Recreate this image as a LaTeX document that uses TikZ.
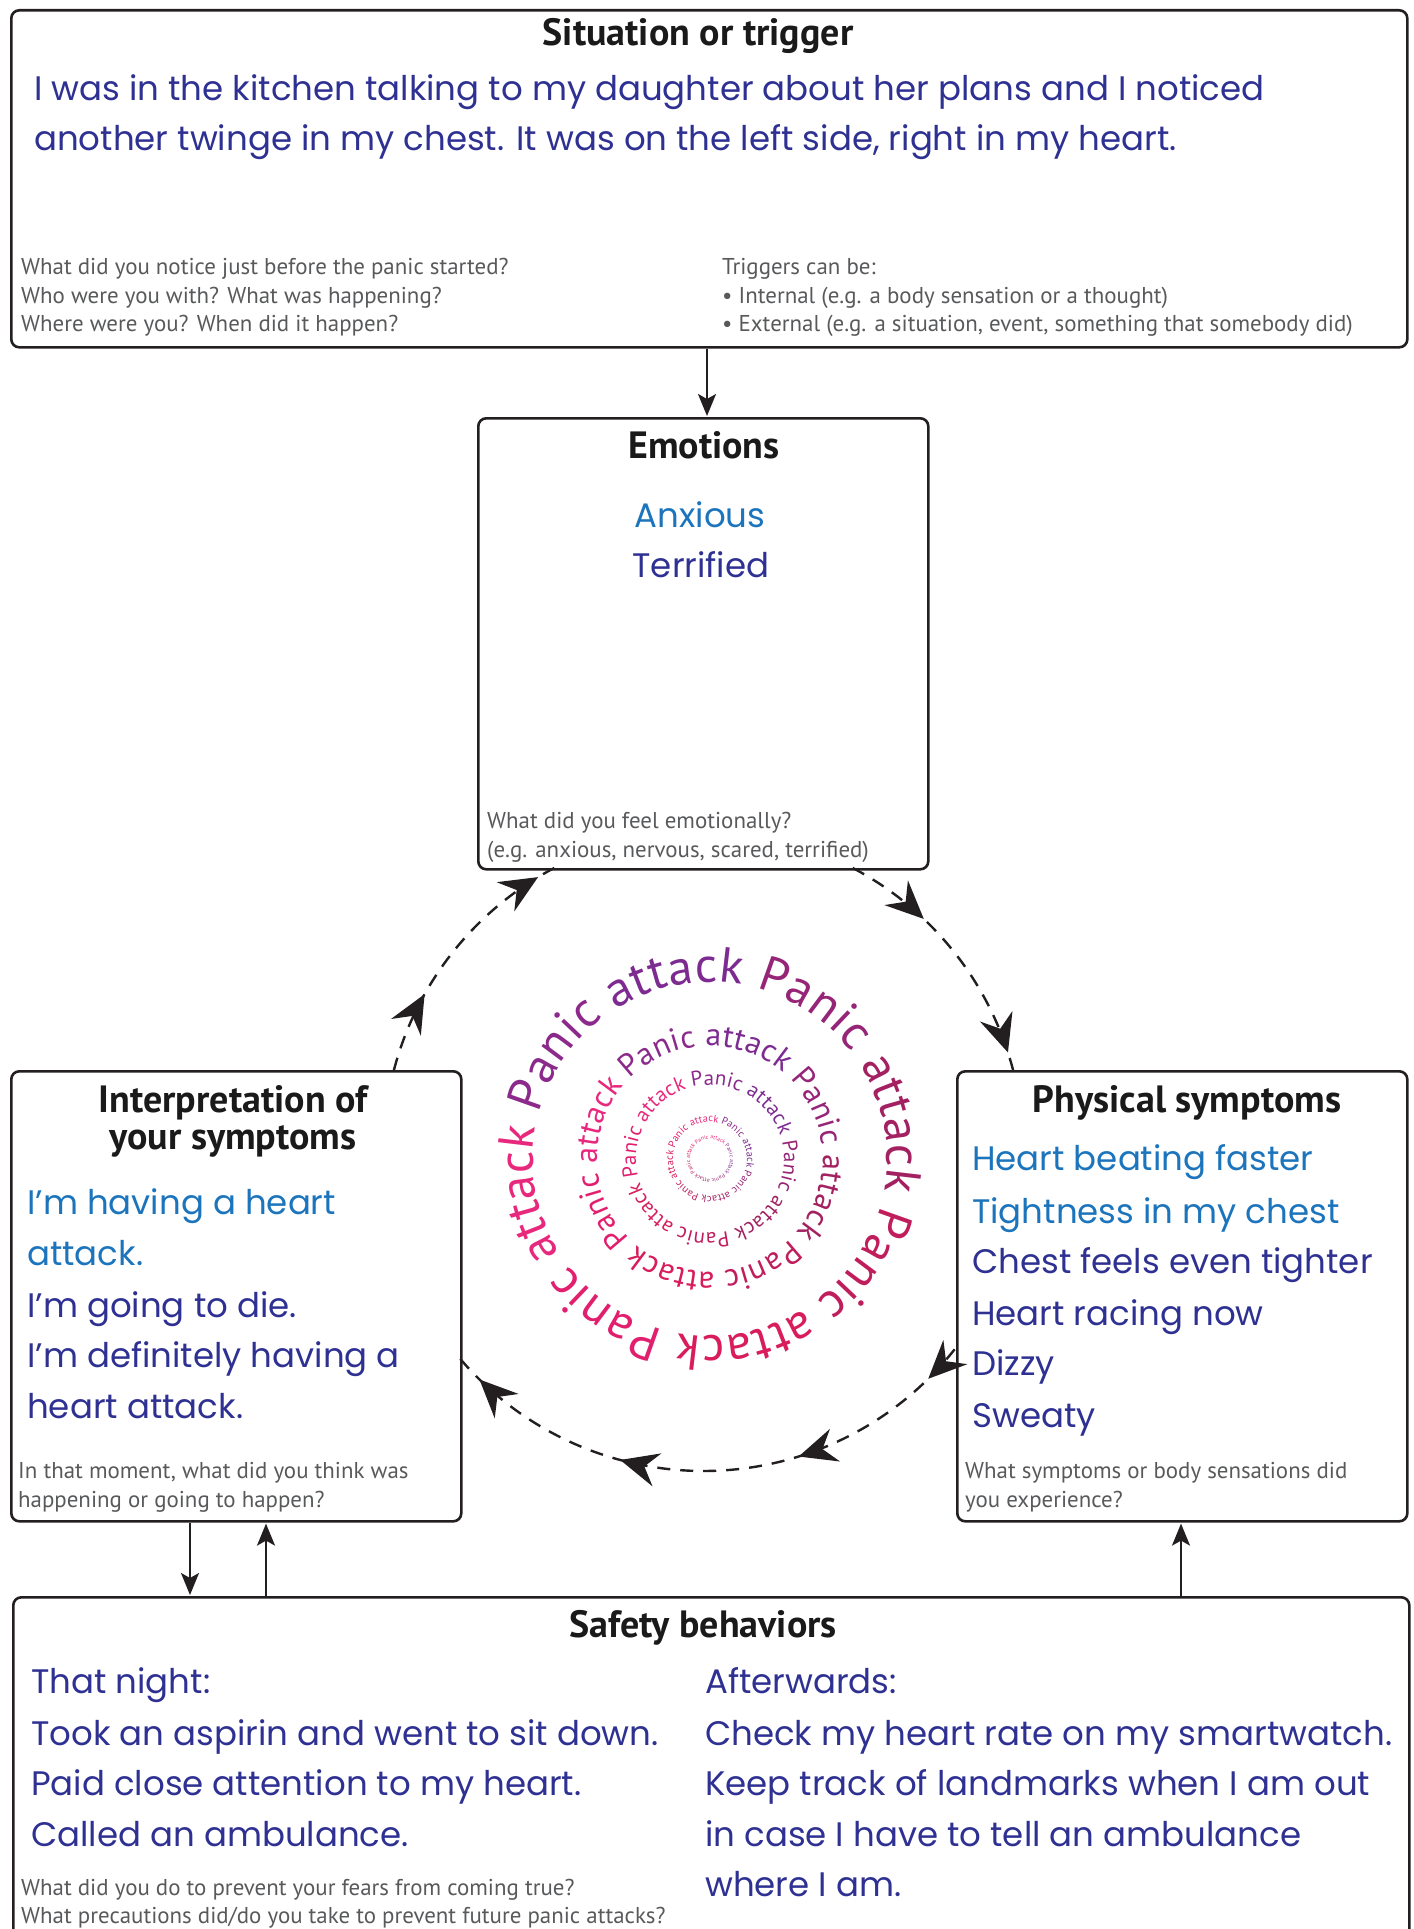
\documentclass[tikz,border=0pt]{standalone}
\usepackage{fontspec}
\usetikzlibrary{arrows.meta,decorations.text,decorations.markings}
\newfontfamily\labelfont{PT Sans}
\newfontfamily\handfont{Poppins}
\newfontfamily\spiralfont{PT Sans}
\definecolor{edge}{HTML}{231F20}
\definecolor{greytxt}{HTML}{58595B}
\definecolor{navy}{HTML}{2E3192}
\definecolor{lblue}{HTML}{1C75BC}
\definecolor{ttlc}{HTML}{1A1A1A}
\definecolor{spA}{HTML}{8C2A8C}
\definecolor{spB}{HTML}{7D2B90}
\definecolor{spC}{HTML}{962477}
\definecolor{spD}{HTML}{A32061}
\definecolor{spE}{HTML}{C01D5C}
\definecolor{spF}{HTML}{D81C5C}
\definecolor{spG}{HTML}{E21F6E}
\definecolor{spH}{HTML}{E8287C}
\newcommand\spf[2]{\spiralfont\fontsize{#1}{#1}\selectfont\color{#2}}
\begin{document}
\begin{tikzpicture}[x=1pt,y=1pt,
  box/.style={draw=edge, line width=2.6pt, rounded corners=8pt, inner sep=0pt, anchor=north west},
  ttl/.style={inner sep=0pt, anchor=base, text=ttlc, font=\labelfont\bfseries\fontsize{38}{42}\selectfont},
  hint/.style={inner sep=0pt, anchor=base west, text=greytxt, font=\labelfont\fontsize{22.9}{27}\selectfont},
  hand/.style={inner sep=0pt, anchor=base west, text=navy, font=\handfont\fontsize{34}{40}\selectfont},
  handc/.style={hand, anchor=base},
  conn/.style={draw=edge, line width=2pt, -{Stealth[length=22pt,width=18pt,inset=5pt]}, shorten >=1pt},
  dasharc/.style={draw=edge, line width=2.4pt, dash pattern=on 13pt off 10pt},
  marks2/.style 2 args={postaction={solid, decorate, decoration={markings,
      mark=at position #1 with {\arrow[edge]{Stealth[length=38pt,width=34pt,inset=13pt]}},
      mark=at position #2 with {\arrow[edge]{Stealth[length=38pt,width=34pt,inset=13pt]}}}}},
  marks4/.style n args={4}{postaction={solid, decorate, decoration={markings,
      mark=at position #1 with {\arrow[edge]{Stealth[length=38pt,width=34pt,inset=13pt]}},
      mark=at position #2 with {\arrow[edge]{Stealth[length=38pt,width=34pt,inset=13pt]}},
      mark=at position #3 with {\arrow[edge]{Stealth[length=38pt,width=34pt,inset=13pt]}},
      mark=at position #4 with {\arrow[edge]{Stealth[length=38pt,width=34pt,inset=13pt]}}}}},
  ring/.style={decorate, decoration={text along path, text align=fit to path,
      text={|\spf{#1}{spA}|Panic |\spf{#1}{spB}|attack |\spf{#1}{spC}|Panic |\spf{#1}{spD}|attack |\spf{#1}{spE}|Panic |\spf{#1}{spF}|attack |\spf{#1}{spG}|Panic |\spf{#1}{spH}|attack{\ }}}}
]
\useasboundingbox (0,0) rectangle (1413,-1929);

% ---------- boxes ----------
\node[box, minimum width=1396pt, minimum height=337pt] (trig) at (10,-9) {};
\node[box, minimum width=450pt, minimum height=451pt] (emo) at (477,-417) {};
\node[box, minimum width=450pt, minimum height=450pt] (interp) at (10,-1070) {};
\node[box, minimum width=450pt, minimum height=450pt] (phys) at (956,-1070) {};
\node[box, minimum width=1396pt, minimum height=400pt] (safe) at (12,-1596) {};

% ---------- situation ----------
\node[ttl] (trigT) at (698,-46) {Situation or trigger};
\node[hand] (trigH1) at (34,-101) {I was in the kitchen talking to my daughter about her plans and I noticed};
\node[hand] (trigH2) at (34,-151) {another twinge in my chest. It was on the left side, right in my heart.};
\node[hint] (trigQ1) at (21,-274) {What did you notice just before the panic started?};
\node[hint] (trigQ2) at (21,-303) {Who were you with? What was happening?};
\node[hint] (trigQ3) at (21,-331) {Where were you? When did it happen?};
\node[hint] (trigR1) at (722,-274) {Triggers can be:};
\node[hint] (trigR2) at (722,-303) {• Internal (e.g. a body sensation or a thought)};
\node[hint] (trigR3) at (722,-331) {• External (e.g. a situation, event, something that somebody did)};

% ---------- emotions ----------
\node[ttl] (emoT) at (704,-458) {Emotions};
\node[handc, text=lblue] (emoH1) at (700,-527) {Anxious};
\node[handc] (emoH2) at (701,-577) {Terrified};
\node[hint] (emoQ1) at (487,-828) {What did you feel emotionally?};
\node[hint] (emoQ2) at (487,-857) {(e.g. anxious, nervous, scared, terrified)};

% ---------- interpretation ----------
\node[ttl] (intT1) at (233,-1112) {Interpretation of};
\node[ttl] (intT2) at (233,-1149) {your symptoms};
\node[hand, text=lblue] (intH1) at (27,-1214) {I’m having a heart};
\node[hand, text=lblue] (intH2) at (27,-1265) {attack.};
\node[hand] (intH3) at (27,-1317) {I’m going to die.};
\node[hand] (intH4) at (27,-1367) {I’m definitely having a};
\node[hand] (intH5) at (27,-1418) {heart attack.};
\node[hint] (intQ1) at (18,-1478) {In that moment, what did you think was};
\node[hint] (intQ2) at (18,-1507) {happening or going to happen?};

% ---------- physical ----------
\node[ttl] (phyT) at (1187,-1112) {Physical symptoms};
\node[hand, text=lblue] (phyH1) at (972,-1170) {Heart beating faster};
\node[hand, text=lblue] (phyH2) at (972,-1223) {Tightness in my chest};
\node[hand] (phyH3) at (972,-1273) {Chest feels even tighter};
\node[hand] (phyH4) at (972,-1325) {Heart racing now};
\node[hand] (phyH5) at (972,-1375) {Dizzy};
\node[hand] (phyH6) at (972,-1427) {Sweaty};
\node[hint] (phyQ1) at (965,-1478) {What symptoms or body sensations did};
\node[hint] (phyQ2) at (965,-1507) {you experience?};

% ---------- safety ----------
\node[ttl] (safT) at (703,-1637) {Safety behaviors};
\node[hand] (safL1) at (31,-1693) {That night:};
\node[hand] (safL2) at (31,-1745) {Took an aspirin and went to sit down.};
\node[hand] (safL3) at (31,-1795) {Paid close attention to my heart.};
\node[hand] (safL4) at (31,-1846) {Called an ambulance.};
\node[hand] (safR1) at (705,-1693) {Afterwards:};
\node[hand] (safR2) at (705,-1745) {Check my heart rate on my smartwatch.};
\node[hand] (safR3) at (705,-1795) {Keep track of landmarks when I am out};
\node[hand] (safR4) at (705,-1846) {in case I have to tell an ambulance};
\node[hand] (safR5) at (705,-1896) {where I am.};
\node[hint] (safQ1) at (21,-1895) {What did you do to prevent your fears from coming true?};
\node[hint] (safQ2) at (21,-1923) {What precautions did/do you take to prevent future panic attacks?};

% ---------- solid connectors ----------
\coordinate (xa) at (707,0);
\coordinate (xb) at (190,0);
\coordinate (xc) at (266,0);
\coordinate (xd) at (1181,0);
\draw[conn] (trig.south -| xa) -- (emo.north -| xa);
\draw[conn] (interp.south -| xb) -- (safe.north -| xb);
\draw[conn] (safe.north -| xc) -- (interp.south -| xc);
\draw[conn] (safe.north -| xd) -- (phys.south -| xd);

% ---------- dashed cycle ----------
\coordinate (cc) at (703.5,-1151);
\draw[dasharc, marks2={0.31}{0.93}] (cc) ++(165.4:320) arc[start angle=165.4, end angle=117.8, radius=320];
\draw[dasharc, marks2={0.33}{0.93}] (cc) ++(62.2:320) arc[start angle=62.2, end angle=14.6, radius=320];
\draw[dasharc, marks4={0.07}{0.34}{0.66}{0.95}] (cc) ++(-38.3:320) arc[start angle=-38.3, end angle=-139.5, radius=320];

% ---------- spiral of words ----------
\coordinate (sc) at (710,-1159);
\path[ring=49.5] (sc) ++(165:177) arc[start angle=165, delta angle=-360, radius=177];
\path[ring=31.7] (sc) ++(135:113) arc[start angle=135, delta angle=-360, radius=113];
\path[ring=20.8] (sc) ++(104:74) arc[start angle=104, delta angle=-360, radius=74];
\path[ring=10.4] (sc) ++(73:37) arc[start angle=73, delta angle=-360, radius=37];
\path[ring=5.6] (sc) ++(42:20) arc[start angle=42, delta angle=-360, radius=20];
\end{tikzpicture}
\end{document}
